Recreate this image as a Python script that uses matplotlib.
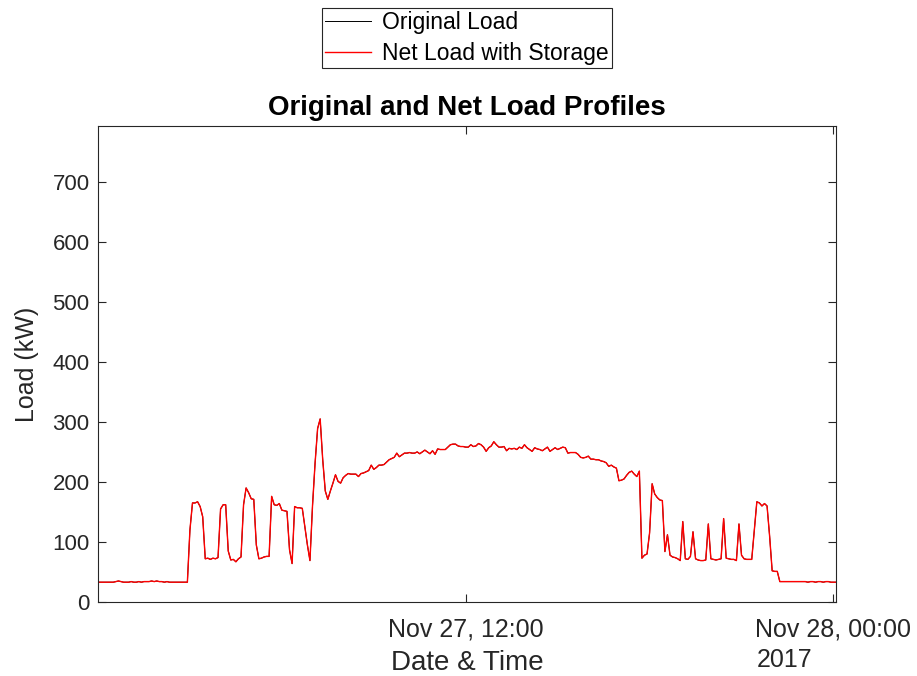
import pandas as pd
import matplotlib
matplotlib.use('Agg')
import matplotlib.pyplot as plt
import matplotlib.dates as mdates

plt.rcParams['font.family'] = ['Liberation Sans', 'DejaVu Sans']

# 5-minute load readings, Nov 27 2017 00:00 -> Nov 28 00:05 (kW), one row per hour
original_load = [
    33, 33, 33, 33, 33, 33, 33, 34, 35, 34, 33, 33,
    33, 34, 33, 33, 34, 33, 34, 34, 34, 35, 34, 35,
    34, 34, 33, 34, 33, 33, 33, 33, 33, 33, 33, 33,
    120, 165, 165, 167, 159, 142, 72, 73, 71, 73, 72, 74,
    155, 162, 162, 85, 70, 71, 67, 72, 75, 162, 190, 182,
    172, 171, 95, 72, 73, 75, 76, 76, 176, 162, 161, 164,
    153, 152, 151, 87, 64, 159, 157, 157, 156, 125, 95, 69,
    160, 231, 289, 305, 237, 185, 171, 185, 198, 212, 201, 198,
    207, 211, 214, 213, 213, 213, 209, 214, 215, 217, 219, 228,
    221, 224, 228, 228, 229, 233, 237, 239, 241, 248, 242, 245,
    248, 248, 249, 248, 248, 250, 247, 250, 253, 250, 247, 252,
    246, 255, 254, 254, 254, 258, 262, 263, 263, 260, 259, 259,
    258, 258, 262, 259, 260, 264, 262, 258, 251, 257, 260, 267,
    262, 258, 258, 259, 252, 256, 255, 256, 254, 258, 256, 262,
    257, 254, 251, 257, 255, 254, 252, 255, 258, 251, 254, 257,
    254, 256, 258, 257, 248, 249, 249, 249, 246, 241, 240, 241,
    243, 238, 238, 237, 237, 235, 234, 232, 226, 228, 225, 223,
    202, 203, 205, 211, 216, 218, 213, 209, 218, 73, 78, 80,
    115, 197, 180, 174, 170, 169, 84, 112, 78, 75, 74, 72,
    69, 134, 72, 71, 76, 117, 72, 70, 69, 69, 70, 130,
    72, 71, 70, 71, 72, 139, 73, 72, 71, 71, 69, 130,
    78, 72, 71, 71, 71, 120, 167, 165, 160, 164, 160, 110,
    52, 51, 51, 34, 34, 34, 34, 34, 34, 34, 34, 34,
    34, 34, 33, 34, 34, 33, 34, 34, 33, 34, 34, 33,
    33, 33,
]
# storage does not change the profile in this window
net_load = list(original_load)

times = pd.date_range('2017-11-27 00:00', periods=len(original_load), freq='5min')
tick_times = pd.to_datetime(['2017-11-27 12:00', '2017-11-28 00:00'])
y_ticks = [0, 100, 200, 300, 400, 500, 600, 700]

fig = plt.figure(figsize=(9.17, 6.76), dpi=100)
ax = fig.add_axes([98 / 917, 74 / 676, 738 / 917, 476 / 676])

ax.plot(times, original_load, color='black', linewidth=0.7, label='Original Load')
ax.plot(times, net_load, color='#ff0000', linewidth=1.0, label='Net Load with Storage')

ax.set_xlim(times[0], times[-1])
ax.set_ylim(0, 793)
ax.set_yticks(y_ticks)
ax.set_xticks(tick_times)
ax.xaxis.set_major_formatter(mdates.DateFormatter('%b %d, %H:%M'))

ax.tick_params(direction='in', length=6, width=0.8, labelsize=16, colors='#262626',
               top=True, right=True, pad=6)
ax.tick_params(axis='x', labelsize=18, pad=11)
for s in ax.spines.values():
    s.set_color('#262626')
    s.set_linewidth(0.8)

ax.set_title('Original and Net Load Profiles', fontsize=20, fontweight='bold', pad=8)
ax.set_ylabel('Load (kW)', fontsize=18, color='#262626', labelpad=10)
ax.set_xlabel('Date & Time', fontsize=20, color='#262626', labelpad=6)
ax.text(757 / 917, 1 - 660 / 676, '2017', transform=fig.transFigure, fontsize=18,
        color='#262626', ha='left', va='center')

leg = fig.legend(loc='upper center', bbox_to_anchor=(467 / 917, 1 - 8 / 676),
                 fontsize=16.5, fancybox=False, framealpha=1, edgecolor='#262626',
                 handlelength=2.0, borderpad=0.12, labelspacing=0.38, handletextpad=0.5,
                 borderaxespad=0)
leg.get_frame().set_linewidth(0.8)

plt.savefig('out.png', dpi=100)
